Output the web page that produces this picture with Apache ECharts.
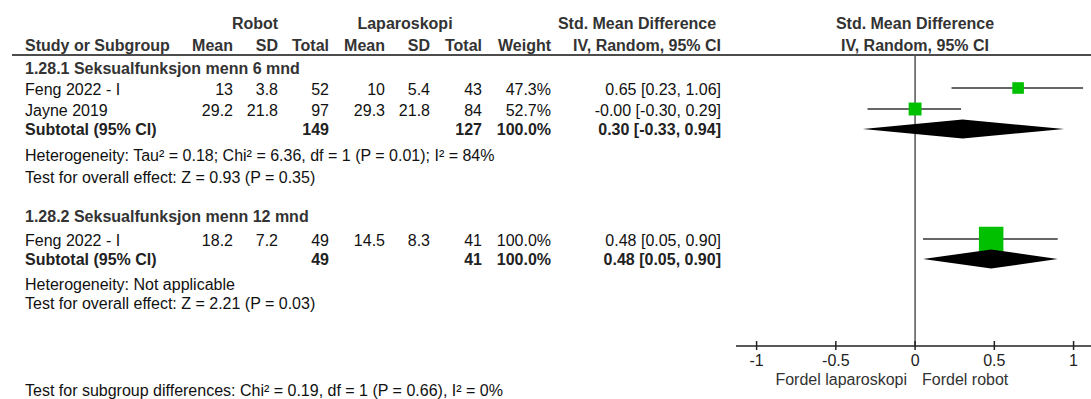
<!DOCTYPE html>
<html>
<head>
<meta charset="utf-8">
<script src="https://cdn.jsdelivr.net/npm/echarts@6/dist/echarts.min.js"></script>
<style>
  html, body { margin: 0; padding: 0; background: #fff; }
  #chart { width: 1091px; height: 399px; }
</style>
</head>
<body>
<div id="chart"></div>
<script>
// ---------- data ----------
const groupTitles = ['1.28.1 Seksualfunksjon menn 6 mnd', '1.28.2 Seksualfunksjon menn 12 mnd'];
const studyNames  = ['Feng 2022 - I', 'Jayne 2019', 'Feng 2022 - I'];
const studyGroup  = [0, 0, 1];
const robotMean   = [13, 29.2, 18.2];
const robotSD     = [3.8, 21.8, 7.2];
const robotN      = [52, 97, 49];
const lapMean     = [10, 29.3, 14.5];
const lapSD       = [5.4, 21.8, 8.3];
const lapN        = [43, 84, 41];
const weights     = [47.3, 52.7, 100.0];
const smd         = [0.65, -0.00, 0.48];
const ciLow       = [0.23, -0.30, 0.05];
const ciHigh      = [1.06, 0.29, 0.90];

const subRobotN   = [149, 49];
const subLapN     = [127, 41];
const subWeight   = [100.0, 100.0];
const subSmd      = [0.30, 0.48];
const subLow      = [-0.33, 0.05];
const subHigh     = [0.94, 0.90];

const heterogeneity = [
  'Heterogeneity: Tau\u00B2 = 0.18; Chi\u00B2 = 6.36, df = 1 (P = 0.01); I\u00B2 = 84%',
  'Heterogeneity: Not applicable'
];
const overallEffect = [
  'Test for overall effect: Z = 0.93 (P = 0.35)',
  'Test for overall effect: Z = 2.21 (P = 0.03)'
];
const subgroupTest = 'Test for subgroup differences: Chi\u00B2 = 0.19, df = 1 (P = 0.66), I\u00B2 = 0%';

const axisTicks   = [-1, -0.5, 0, 0.5, 1];
const favourLeft  = 'Fordel laparoskopi';
const favourRight = 'Fordel robot';

// ---------- layout (pixel rows / columns) ----------
const FONT = '"Liberation Sans", Arial, sans-serif';
const FS = 16;
const rowHead1 = 23, rowHead2 = 45, ruleY = 55;
const groupRowY   = [68, 216];
const studyRowY   = [88, 109, 239];
const subRowY     = [129, 259];
const hetRowY     = [155, 284];
const effRowY     = [177, 303];
const axisY       = 346;
const col = { name: 25, rMean: 233, rSD: 278, rN: 329, lMean: 385, lSD: 430, lN: 482, w: 551, ci: 721, plot: 915 };

// ---------- helpers ----------
function fmt2(v) {
  const neg = v < 0 || Object.is(v, -0);
  return (neg ? '-' : '') + Math.abs(v).toFixed(2);
}
function ciText(m, lo, hi) {
  return fmt2(m) + ' [' + fmt2(lo) + ', ' + fmt2(hi) + ']';
}
const texts = [];
function txt(s, x, y, align, bold, color) {
  texts.push({
    type: 'text', x: x, y: y, silent: true,
    style: {
      text: String(s), align: align || 'left', verticalAlign: 'middle',
      font: (bold ? 'bold ' : '') + FS + 'px ' + FONT,
      fill: color || (bold ? '#222' : '#111')
    }
  });
}

// header
txt('Robot', 255, rowHead1, 'center', true, '#333');
txt('Laparoskopi', 405, rowHead1, 'center', true, '#333');
txt('Std. Mean Difference', 637, rowHead1, 'center', true, '#333');
txt('Std. Mean Difference', col.plot, rowHead1, 'center', true, '#333');
txt('Study or Subgroup', col.name, rowHead2, 'left', true, '#333');
txt('Mean', col.rMean, rowHead2, 'right', true, '#333');
txt('SD', col.rSD, rowHead2, 'right', true, '#333');
txt('Total', col.rN, rowHead2, 'right', true, '#333');
txt('Mean', col.lMean, rowHead2, 'right', true, '#333');
txt('SD', col.lSD, rowHead2, 'right', true, '#333');
txt('Total', col.lN, rowHead2, 'right', true, '#333');
txt('Weight', col.w, rowHead2, 'right', true, '#333');
txt('IV, Random, 95% CI', col.ci, rowHead2, 'right', true, '#333');
txt('IV, Random, 95% CI', col.plot, rowHead2, 'center', true, '#333');

// subgroup blocks
groupTitles.forEach(function (g, gi) {
  txt(g, col.name, groupRowY[gi], 'left', true, '#333');
  txt('Subtotal (95% CI)', col.name, subRowY[gi], 'left', true);
  txt(subRobotN[gi], col.rN, subRowY[gi], 'right', true);
  txt(subLapN[gi], col.lN, subRowY[gi], 'right', true);
  txt(subWeight[gi].toFixed(1) + '%', col.w, subRowY[gi], 'right', true);
  txt(ciText(subSmd[gi], subLow[gi], subHigh[gi]), col.ci, subRowY[gi], 'right', true);
  txt(heterogeneity[gi], col.name, hetRowY[gi], 'left');
  txt(overallEffect[gi], col.name, effRowY[gi], 'left');
});

// study rows
studyNames.forEach(function (n, i) {
  const y = studyRowY[i] + 1;
  txt(n, col.name, y, 'left');
  txt(robotMean[i], col.rMean, y, 'right');
  txt(robotSD[i], col.rSD, y, 'right');
  txt(robotN[i], col.rN, y, 'right');
  txt(lapMean[i], col.lMean, y, 'right');
  txt(lapSD[i], col.lSD, y, 'right');
  txt(lapN[i], col.lN, y, 'right');
  txt(weights[i].toFixed(1) + '%', col.w, y, 'right');
  txt(ciText(smd[i], ciLow[i], ciHigh[i]), col.ci, y, 'right');
});

txt(subgroupTest, col.name, 390, 'left');
txt(favourLeft, 907, 379, 'right', false, '#333');
txt(favourRight, 922, 379, 'left', false, '#333');

// ---------- chart ----------
const chart = echarts.init(document.getElementById('chart'), null, { renderer: 'svg', width: 1091, height: 399 });

const xMin = -1.13, xMax = 1.11;

const studyData = studyNames.map(function (n, i) {
  return [smd[i], studyRowY[i], ciLow[i], ciHigh[i], weights[i]];
});
const diamondData = subSmd.map(function (m, i) {
  return [m, subRowY[i], subLow[i], subHigh[i]];
});
const tickData = axisTicks.map(function (t) { return [t, axisY]; });

chart.setOption({
  animation: false,
  backgroundColor: '#fff',
  grid: { left: 736, width: 355, top: 0, height: axisY, show: false },
  xAxis: { type: 'value', min: xMin, max: xMax, show: false },
  yAxis: { type: 'value', min: 0, max: axisY, inverse: true, show: false },
  graphic: [
    { type: 'line', silent: true, shape: { x1: 12, y1: ruleY, x2: 1091, y2: ruleY }, style: { stroke: '#111', lineWidth: 1.5 } }
  ].concat(texts),
  series: [
    {
      // line of no effect and the horizontal scale line
      type: 'custom', clip: false, silent: true,
      data: [[0, ruleY, 0, axisY], [xMin, axisY, xMax, axisY]],
      encode: { x: 0, y: 1 },
      renderItem: function (params, api) {
        const a = api.coord([api.value(0), api.value(1)]);
        const b = api.coord([api.value(2), api.value(3)]);
        return { type: 'line', shape: { x1: a[0], y1: a[1], x2: b[0], y2: b[1] },
                 style: { stroke: params.dataIndex === 0 ? '#555' : '#222', lineWidth: 1.5 } };
      }
    },
    {
      // scale ticks crossing the line, with their labels
      type: 'custom', clip: false, silent: true,
      data: tickData,
      encode: { x: 0, y: 1 },
      renderItem: function (params, api) {
        const v = api.value(0);
        const p = api.coord([v, api.value(1)]);
        return {
          type: 'group',
          children: [
            { type: 'line', shape: { x1: p[0], y1: p[1] - 5, x2: p[0], y2: p[1] + 4 }, style: { stroke: '#222', lineWidth: 1.5 } },
            { type: 'text', x: p[0], y: p[1] + 14,
              style: { text: String(v), align: 'center', verticalAlign: 'middle', font: FS + 'px ' + FONT, fill: '#222' } }
          ]
        };
      }
    },
    {
      // individual studies: CI whisker + weighted square
      type: 'custom', clip: false, silent: true,
      data: studyData,
      encode: { x: 0, y: 1 },
      renderItem: function (params, api) {
        const y = api.value(1);
        const c = api.coord([api.value(0), y]);
        const lo = api.coord([api.value(2), y]);
        const hi = api.coord([api.value(3), y]);
        const s = api.value(4) / 100 * 24.5;
        return {
          type: 'group',
          children: [
            { type: 'line', shape: { x1: lo[0], y1: lo[1], x2: hi[0], y2: hi[1] }, style: { stroke: '#333', lineWidth: 1.6 } },
            { type: 'rect', shape: { x: c[0] - s / 2, y: c[1] - s / 2, width: s, height: s }, style: { fill: '#00c000' } }
          ]
        };
      }
    },
    {
      // pooled estimates (diamonds)
      type: 'custom', clip: false, silent: true,
      data: diamondData,
      encode: { x: 0, y: 1 },
      renderItem: function (params, api) {
        const y = api.value(1);
        const c = api.coord([api.value(0), y]);
        const lo = api.coord([api.value(2), y]);
        const hi = api.coord([api.value(3), y]);
        const h = 9.5;
        return {
          type: 'polygon',
          shape: { points: [[lo[0], c[1]], [c[0], c[1] - h], [hi[0], c[1]], [c[0], c[1] + h]] },
          style: { fill: '#000' }
        };
      }
    }
  ]
});
</script>
</body>
</html>
